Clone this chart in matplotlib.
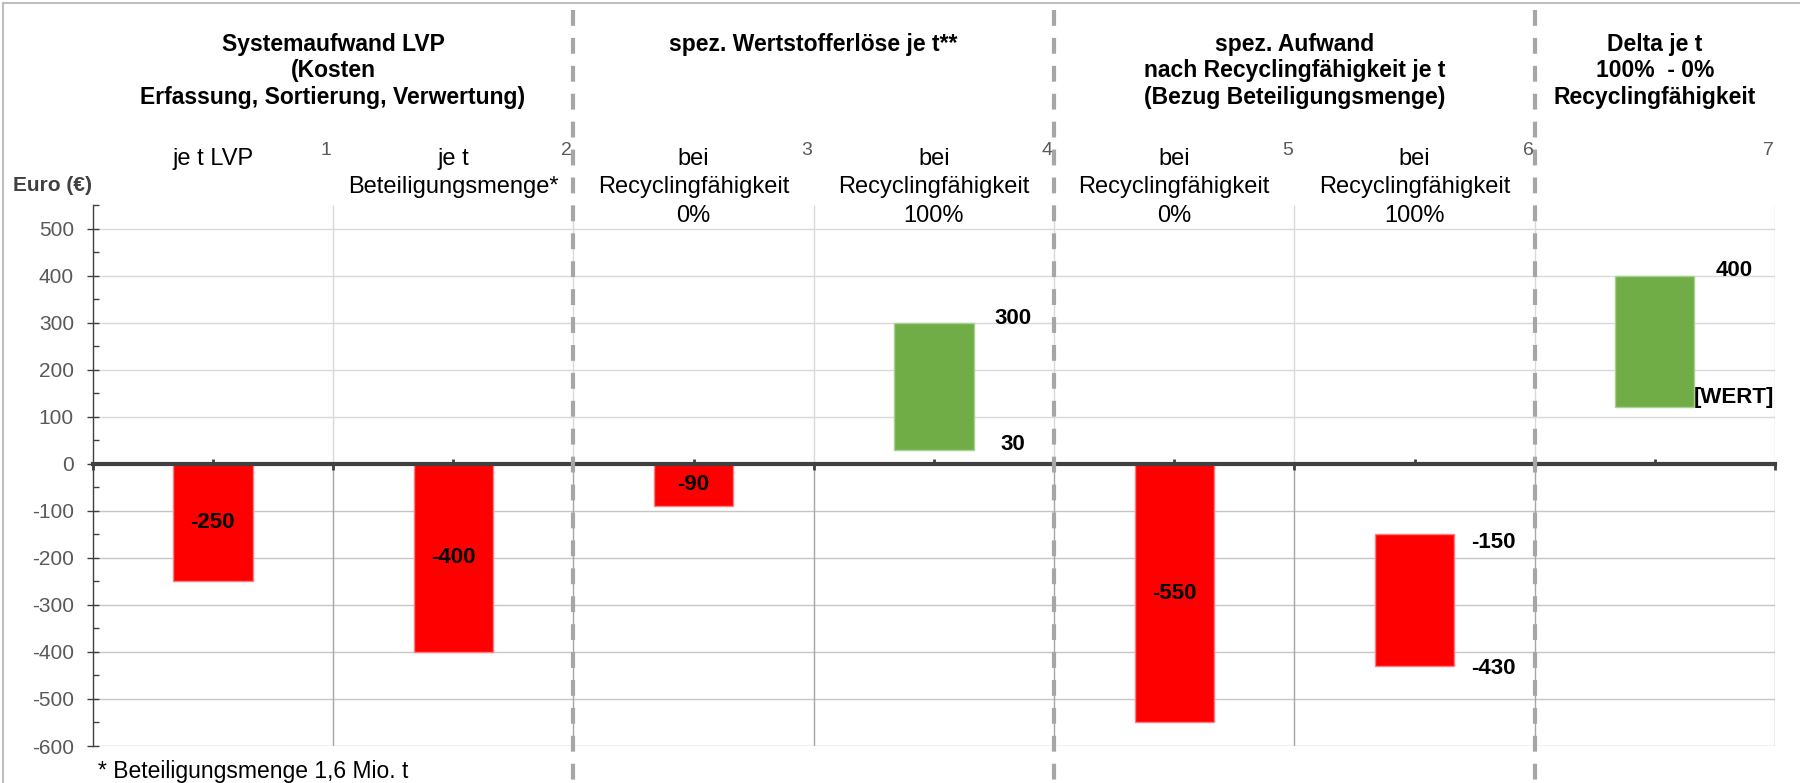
import numpy as np
import matplotlib
matplotlib.use("Agg")
import matplotlib.pyplot as plt
from matplotlib.transforms import blended_transform_factory
from matplotlib.lines import Line2D

plt.rcParams['font.family'] = ['Liberation Sans', 'DejaVu Sans']
plt.rcParams['axes.unicode_minus'] = False

# ---- Daten ----
bar_start = [0, 0, 0, 30, 0, -150, 120]
bar_end = [-250, -400, -90, 300, -550, -430, 400]
inner_labels = ["-250", "-400", "-90", "", "-550", "", ""]
start_labels = ["", "", "", "30", "", "-150", "[WERT]"]
end_labels = ["", "", "", "300", "", "-430", "400"]
cat_labels = ["je t LVP",
              "je t\nBeteiligungsmenge*",
              "bei\nRecyclingfähigkeit\n0%",
              "bei\nRecyclingfähigkeit\n100%",
              "bei\nRecyclingfähigkeit\n0%",
              "bei\nRecyclingfähigkeit\n100%",
              ""]
cat_numbers = ["1", "2", "3", "4", "5", "6", "7"]
group_titles = ["Systemaufwand LVP\n(Kosten\nErfassung, Sortierung, Verwertung)",
                "spez. Wertstofferlöse je t**",
                "spez. Aufwand\nnach Recyclingfähigkeit je t\n(Bezug Beteiligungsmenge)",
                "Delta je t\n100%  - 0%\nRecyclingfähigkeit"]
group_first = [0, 2, 4, 6]
group_last = [1, 3, 5, 6]
y_ticks = np.arange(-600, 501, 100)
footnote = "* Beteiligungsmenge 1,6 Mio. t"

# label offsets (points) for the labels next to the floating bars
start_offsets = [0, 0, 0, 4, 0, -6, 7]
end_offsets = [0, 0, 0, 3, 0, -2, 4]

W, H = 1800, 783
fig = plt.figure(figsize=(W / 100, H / 100), dpi=100)
ax = fig.add_axes([92.7 / W, 1 - 746 / H, (1775 - 92.7) / W, (746 - 205) / H])


def fy(px):
    return 1 - px / H


blend = blended_transform_factory(ax.transData, fig.transFigure)

n = len(bar_end)
x = np.arange(n) + 0.5
ax.set_xlim(0, n)
ax.set_ylim(-600, 550)

# gridlines
up = y_ticks[y_ticks > 0]
low = y_ticks[y_ticks < 0]
ax.hlines(up, 0, n, colors='#D9D9D9', lw=1, zorder=0.5)
ax.hlines(low, 0, n, colors='#C6C6C6', lw=1, zorder=0.5)
ax.vlines(np.arange(1, n + 1), 0, 550, colors='#D9D9D9', lw=1, zorder=0.5)
ax.vlines(np.arange(1, n + 1), -600, 0, colors='#A6A6A6', lw=1, zorder=0.5)

# bars
heights = np.subtract(bar_end, bar_start)
colors = ['#FF0000' if e < 0 else '#70AD47' for e in bar_end]
edges = ['#FF7C80' if e < 0 else '#A9D18E' for e in bar_end]
ax.bar(x, heights, bottom=bar_start, width=0.33, color=colors,
       edgecolor=edges, linewidth=1, zorder=1)

for i in range(n):
    if inner_labels[i]:
        ax.text(x[i], (bar_start[i] + bar_end[i]) / 2, inner_labels[i],
                ha='center', va='center', fontsize=16, fontweight='bold', zorder=4)
    if start_labels[i]:
        ax.annotate(start_labels[i], (x[i] + 0.33, bar_start[i]), xytext=(0, start_offsets[i]),
                    textcoords='offset points', ha='center', va='center',
                    fontsize=16, fontweight='bold', zorder=4)
    if end_labels[i]:
        ax.annotate(end_labels[i], (x[i] + 0.33, bar_end[i]), xytext=(0, end_offsets[i]),
                    textcoords='offset points', ha='center', va='center',
                    fontsize=16, fontweight='bold', zorder=4)

# axes styling
for s in ['top', 'right']:
    ax.spines[s].set_visible(False)
ax.spines['bottom'].set_position(('data', 0))
ax.spines['bottom'].set_linewidth(3)
ax.spines['bottom'].set_color('#404040')
ax.spines['left'].set_linewidth(1)
ax.spines['left'].set_color('#404040')

ax.set_xticks(np.arange(n + 1))
ax.set_xticks(x, minor=True)
ax.tick_params(axis='x', which='major', direction='out', length=4.5, width=2,
               color='#404040', labelbottom=False)
ax.tick_params(axis='x', which='minor', direction='in', length=3.5, width=2, color='#404040')
ax.set_yticks(y_ticks)
ax.set_yticks(np.arange(-550, 551, 100), minor=True)
ax.tick_params(axis='y', which='major', direction='inout', length=8, width=1,
               color='#404040', labelsize=15, labelcolor='#595959', pad=9.5)
ax.tick_params(axis='y', which='minor', direction='in', length=4, width=1, color='#404040')

# Kategorien und Gruppen
for i in range(n):
    if cat_labels[i]:
        ax.text(x[i], fy(148), cat_labels[i], transform=blend, ha='center', va='top',
                fontsize=17, linespacing=1.38)
    ax.text(i + 1 - 0.005, fy(155), cat_numbers[i], transform=blend, ha='right', va='baseline',
            fontsize=14, color='#595959')

for t, a, b in zip(group_titles, group_first, group_last):
    ax.text((a + b + 1) / 2, fy(33), t, transform=blend, ha='center', va='top',
            fontsize=16.5, fontweight='bold', linespacing=1.185)

# separators
for b in [2, 4, 6]:
    ax.plot([b, b], [fy(10), 0], transform=blend, clip_on=False, color='#A6A6A6',
            lw=3, dashes=(3.8, 2.9), zorder=6)

fig.text(13 / W, fy(191), "Euro (€)", fontsize=15, fontweight='bold', color='#404040',
         ha='left', va='baseline')
fig.text(98 / W, fy(778), footnote, fontsize=16.5, ha='left', va='baseline')

# Rahmen
fig.add_artist(Line2D([3 / W, 3 / W], [0, fy(3)], transform=fig.transFigure, color='#BFBFBF', lw=1.5))
fig.add_artist(Line2D([3 / W, 1], [fy(3), fy(3)], transform=fig.transFigure, color='#BFBFBF', lw=1.5))

fig.savefig("out.png", dpi=100, facecolor='white')
